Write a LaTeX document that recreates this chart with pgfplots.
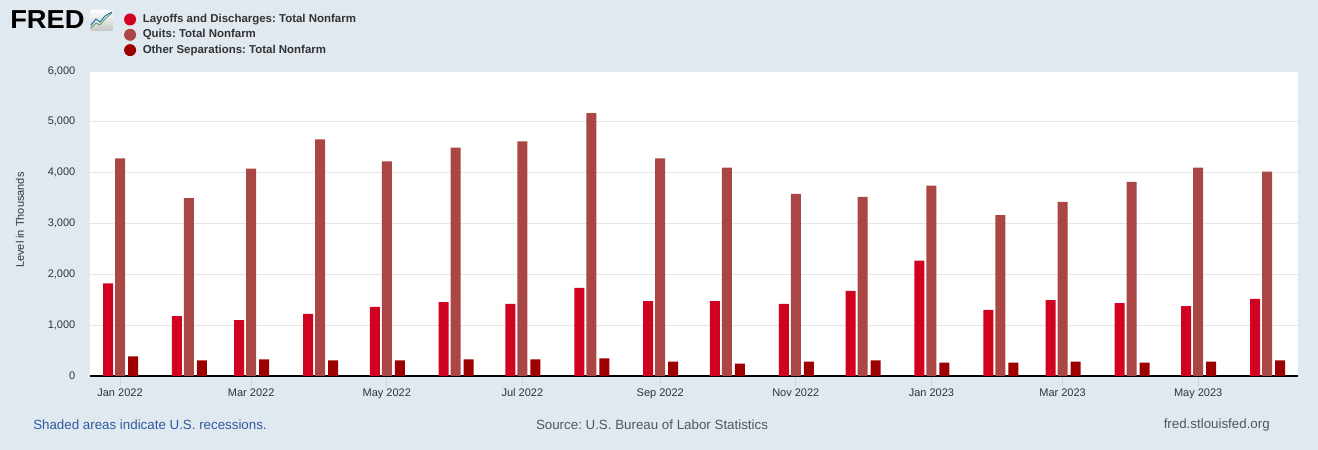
\documentclass[border=0pt]{standalone}
\usepackage{pgfplots}
\usepackage{pgfplotstable}
\pgfplotsset{compat=1.18}
\usepackage{fontspec}
\setmainfont{Liberation Sans}
\frenchspacing
\definecolor{bg}{HTML}{E1E9F0}
\definecolor{lcol}{HTML}{D0021F}
\definecolor{qcol}{HTML}{AA4643}
\definecolor{ocol}{HTML}{9C0000}
\definecolor{txt}{HTML}{333333}
\definecolor{gridc}{HTML}{E6E6E6}
\definecolor{tickc}{HTML}{C8D4E6}
\definecolor{footblue}{HTML}{2F5B9E}
\definecolor{footgray}{HTML}{555555}

% x = days since 1 Jan 2022
\pgfplotstableread{
x L Q O
0 1820 4280 385
31 1180 3500 305
59 1100 4080 325
90 1220 4655 305
120 1360 4220 305
151 1455 4495 325
181 1420 4615 325
212 1735 5170 345
243 1475 4280 285
273 1475 4100 245
304 1420 3585 285
334 1675 3525 305
365 2270 3745 265
396 1300 3165 265
424 1495 3425 285
455 1435 3820 265
485 1375 4100 285
516 1515 4020 305
}\datatable

\begin{document}
\begin{tikzpicture}
\useasboundingbox (0pt,0pt) rectangle (988.5pt,337.5pt);
\fill[bg] (0pt,0pt) rectangle (988.5pt,337.5pt);
\begin{scope}[x=0.75pt,y=0.75pt]
% FRED logo
\node[anchor=base west, inner sep=0, xscale=1.05, font=\bfseries\fontsize{19.5}{19.5}\selectfont] at (10,421) {FRED};
\shade[top color=white, bottom color=gray!45, rounded corners=1.5] (90,419) rectangle (113,440);
\draw[green!50!black!70, line width=0.6pt] (91,422) -- (96,427) -- (100,425) -- (105,431) -- (112,437);
\draw[blue!50!cyan!70!black, line width=0.6pt] (91,425) -- (96,431) -- (100,428) -- (105,434) -- (112,438);
\node[anchor=west, inner sep=0, font=\fontsize{10}{12}\selectfont, text=footblue] at (33,25) {Shaded areas indicate U.S. recessions.};
\node[anchor=center, inner sep=0, font=\fontsize{10}{12}\selectfont, text=footgray] at (652,25) {Source: U.S. Bureau of Labor Statistics};
\node[anchor=east, inner sep=0, font=\fontsize{10}{12}\selectfont, text=footgray] at (1270,25) {fred.stlouisfed.org};
\end{scope}

\begin{axis}[
  at={(67.5pt,55.5pt)}, anchor=south west,
  scale only axis, width=906pt, height=228.75pt,
  xmin=-13.5, xmax=529.9, ymin=0, ymax=6000,
  axis background/.style={fill=white},
  ybar, bar width=7.5pt,
  axis x line*=bottom, axis y line*=left,
  x axis line style={black, line width=1.5pt, -},
  y axis line style={draw=none},
  ytick={0,1000,2000,3000,4000,5000,6000},
  ymajorgrids, grid style={gridc, line width=0.75pt},
  ytick style={draw=none},
  xtick={0,59,120,181,243,304,365,424,485},
  xticklabels={Jan 2022,Mar 2022,May 2022,Jul 2022,Sep 2022,Nov 2022,Jan 2023,Mar 2023,May 2023},
  xtick style={tickc, line width=0.75pt},
  major tick length=7.5pt, tick align=outside,
  /pgf/number format/assume math mode=true,
  yticklabel style={/pgf/number format/1000 sep={,}, font=\fontsize{8.25}{10}\selectfont, text=txt},
  xticklabel style={font=\fontsize{8.25}{10}\selectfont, text=txt, yshift=1.5pt},
  ylabel={Level in Thousands},
  ylabel style={at={(axis description cs:-0.058,0.511)}, anchor=center, font=\fontsize{8.25}{10}\selectfont, text=txt},
  legend style={at={(axis description cs:0.028,1.195)}, anchor=north west, draw=none, fill=none,
    font=\bfseries\fontsize{8.6}{10}\selectfont, text=txt, inner sep=0pt, row sep=0pt,
    nodes={inner sep=1pt, text height=7pt, text depth=2.5pt},
    /tikz/every odd column/.append style={column sep=4pt}},
  legend cell align=left,
]
\addplot[fill=lcol, draw=none, bar shift=-9pt, legend image code/.code={\fill[lcol] (3pt,0pt) circle (4.5pt);}] table[x=x,y=L] {\datatable};
\addlegendentry{Layoffs and Discharges: Total Nonfarm}
\addplot[fill=qcol, draw=none, bar shift=0pt, legend image code/.code={\fill[qcol] (3pt,0pt) circle (4.5pt);}] table[x=x,y=Q] {\datatable};
\addlegendentry{Quits: Total Nonfarm}
\addplot[fill=ocol, draw=none, bar shift=9.75pt, legend image code/.code={\fill[ocol] (3pt,0pt) circle (4.5pt);}] table[x=x,y=O] {\datatable};
\addlegendentry{Other Separations: Total Nonfarm}
\end{axis}
\end{tikzpicture}
\end{document}
